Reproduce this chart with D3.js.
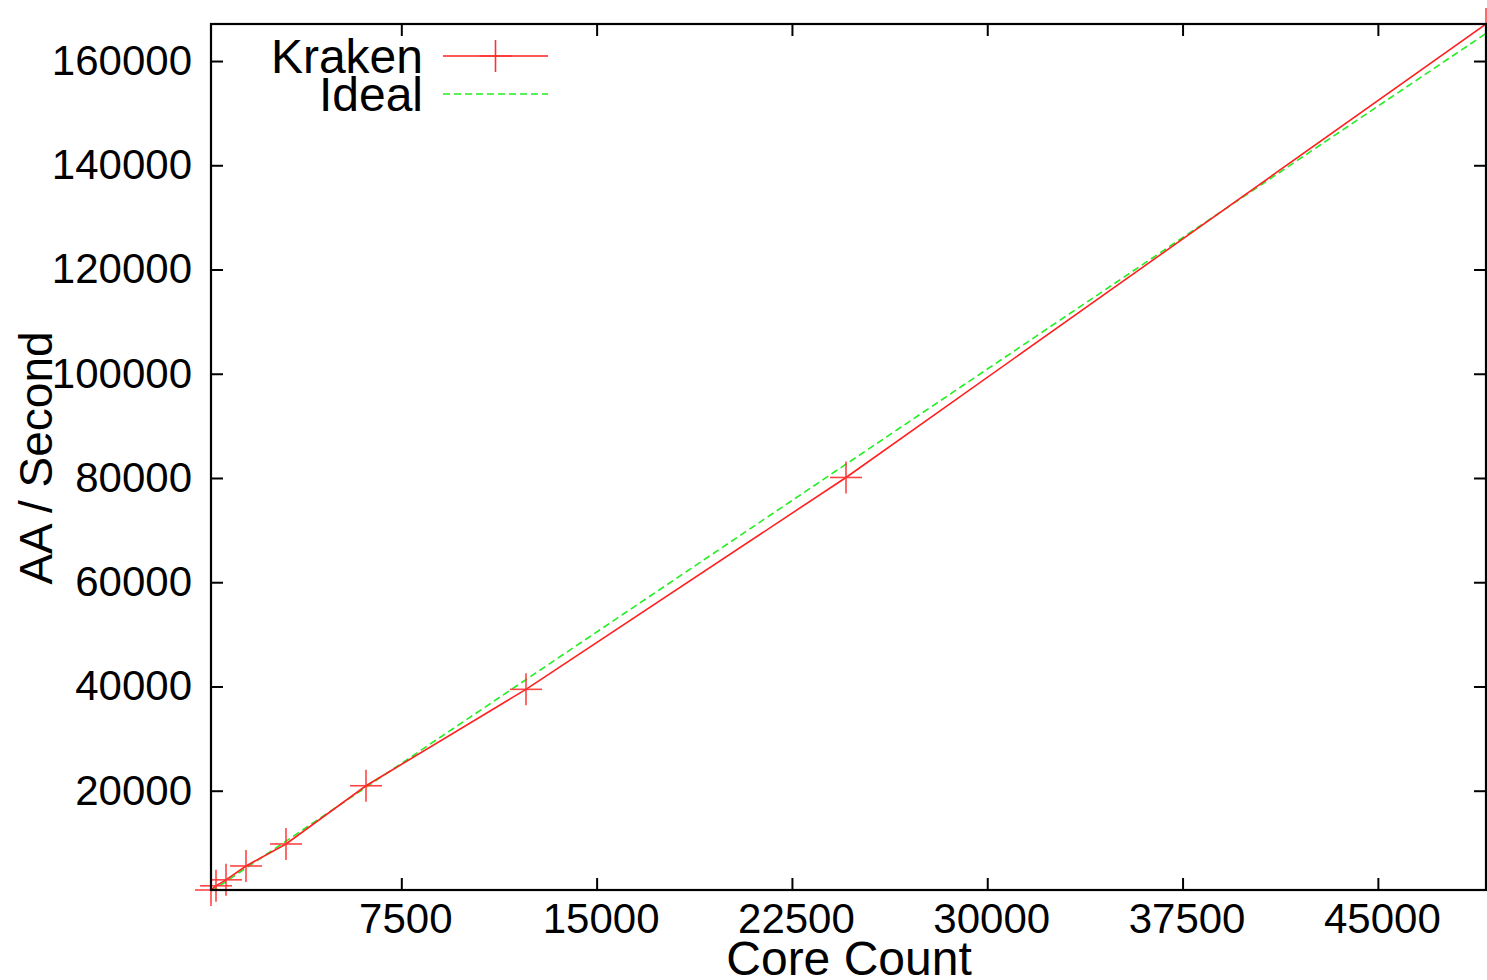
<!DOCTYPE html>
<html>
<head>
<meta charset="utf-8">
<script src="https://cdn.jsdelivr.net/npm/d3@7"></script>
<style>
html,body{margin:0;padding:0;background:#fff;}
svg text{font-family:"Liberation Sans",Arial,Helvetica,sans-serif;fill:#000;}
</style>
</head>
<body>
<svg id="chart" width="1487" height="980"></svg>
<script>
// Data
const cores = [192, 384, 768, 1536, 3072, 6144, 12288, 24576, 49152];
const kraken = [950, 1750, 2900, 5560, 9780, 20950, 39450, 80100, 167100];
const ideal = [646, 1291, 2583, 5165, 10331, 20661, 41323, 82646, 165292];
const xTicks = [7500, 15000, 22500, 30000, 37500, 45000];
const yTicks = [20000, 40000, 60000, 80000, 100000, 120000, 140000, 160000];
const seriesNames = ["Kraken", "Ideal"];
const xTitle = "Core Count";
const yTitle = "AA / Second";

const svg = d3.select("#chart");
const L = 211, R = 1486, T = 24, B = 890;

const x = d3.scaleLinear().domain([192, 49152]).range([L, R]);
const y = d3.scaleLinear().domain([950, 167105]).range([B, T]);

svg.append("clipPath").attr("id", "clip")
  .append("rect").attr("x", L).attr("y", T).attr("width", R - L).attr("height", B - T);

// Axes with inward ticks, mirrored
const tickLen = 12;
const gx = svg.append("g").attr("transform", `translate(0,${B})`)
  .call(d3.axisBottom(x).tickValues(xTicks).tickSize(-tickLen).tickPadding(13).tickFormat(d3.format("d")));
const gxTop = svg.append("g").attr("transform", `translate(0,${T})`)
  .call(d3.axisTop(x).tickValues(xTicks).tickSize(-tickLen).tickFormat(""));
const gy = svg.append("g").attr("transform", `translate(${L},0)`)
  .call(d3.axisLeft(y).tickValues(yTicks).tickSize(-tickLen).tickPadding(19).tickFormat(d3.format("d")));
const gyR = svg.append("g").attr("transform", `translate(${R},0)`)
  .call(d3.axisRight(y).tickValues(yTicks).tickSize(-tickLen).tickFormat(""));

[gx, gxTop, gy, gyR].forEach(g => {
  g.select(".domain").remove();
  g.selectAll(".tick line").attr("stroke", "#000").attr("stroke-width", 2);
  g.selectAll(".tick text").style("font-size", "42px").attr("fill", "#000");
});
gx.selectAll(".tick text").attr("dy", "0.71em").attr("dx", "4");

// Lines
const line = d3.line().x((d, i) => x(cores[i])).y(d => y(d));
const plot = svg.append("g").attr("clip-path", "url(#clip)");

plot.append("path").datum(ideal)
  .attr("d", line).attr("fill", "none")
  .attr("stroke", "#22ee22").attr("stroke-width", 1.6).attr("stroke-dasharray", "7,4");

plot.append("path").datum(kraken)
  .attr("d", line).attr("fill", "none")
  .attr("stroke", "#ff2020").attr("stroke-width", 1.6);

// Cross markers (not clipped, gnuplot draws points at the border)
const cs = 16;
const marks = svg.append("g").attr("stroke", "#ff3030").attr("stroke-width", 1.6).attr("stroke-opacity", 0.9);
kraken.forEach((v, i) => {
  const cx = x(cores[i]), cy = y(v);
  marks.append("line").attr("x1", cx - cs).attr("x2", cx + cs).attr("y1", cy).attr("y2", cy);
  marks.append("line").attr("x1", cx).attr("x2", cx).attr("y1", cy - cs).attr("y2", cy + cs);
});

// Border
svg.append("rect").attr("x", L).attr("y", T).attr("width", R - L).attr("height", B - T)
  .attr("fill", "none").attr("stroke", "#000").attr("stroke-width", 2.2);

// Legend
const lg = svg.append("g");
const lx1 = 443, lx2 = 548;
const ly = [56, 94];
lg.append("text").attr("x", 423).attr("y", ly[0]).attr("dy", "0.35em").attr("text-anchor", "end")
  .style("font-size", "48px").text(seriesNames[0]);
lg.append("line").attr("x1", lx1).attr("x2", lx2).attr("y1", ly[0]).attr("y2", ly[0])
  .attr("stroke", "#ff2020").attr("stroke-width", 1.6);
lg.append("line").attr("x1", (lx1 + lx2) / 2 - cs).attr("x2", (lx1 + lx2) / 2 + cs).attr("y1", ly[0]).attr("y2", ly[0])
  .attr("stroke", "#ff3030").attr("stroke-width", 1.6);
lg.append("line").attr("x1", (lx1 + lx2) / 2).attr("x2", (lx1 + lx2) / 2).attr("y1", ly[0] - cs).attr("y2", ly[0] + cs)
  .attr("stroke", "#ff3030").attr("stroke-width", 1.6);
lg.append("text").attr("x", 423).attr("y", ly[1]).attr("dy", "0.35em").attr("text-anchor", "end")
  .style("font-size", "48px").text(seriesNames[1]);
lg.append("line").attr("x1", lx1).attr("x2", lx2).attr("y1", ly[1]).attr("y2", ly[1])
  .attr("stroke", "#22ee22").attr("stroke-width", 1.6).attr("stroke-dasharray", "7,4");

// Axis titles
svg.append("text").attr("x", 849).attr("y", 975).attr("text-anchor", "middle")
  .style("font-size", "48px").text(xTitle);
svg.append("text").attr("transform", "translate(52,458) rotate(-90)").attr("text-anchor", "middle")
  .style("font-size", "46px").text(yTitle);
</script>
</body>
</html>
